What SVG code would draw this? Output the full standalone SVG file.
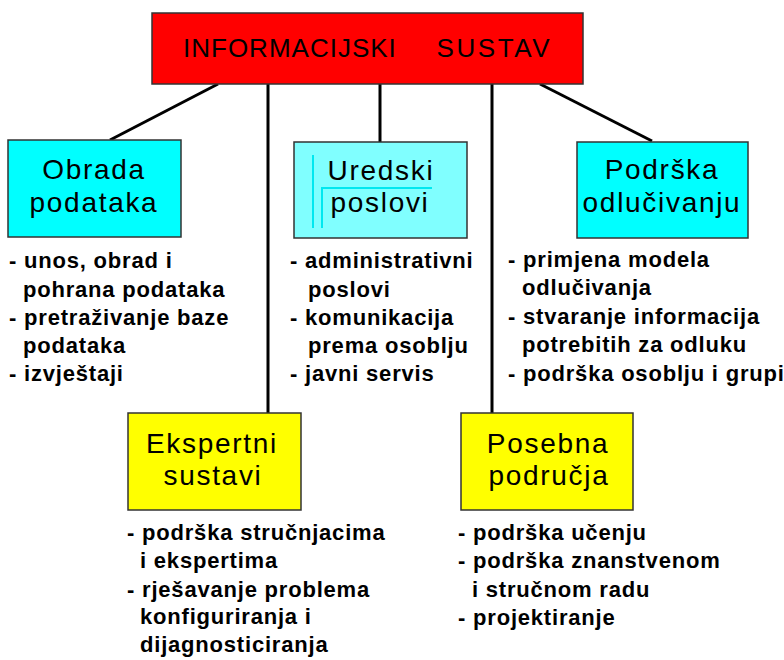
<svg xmlns="http://www.w3.org/2000/svg" width="784" height="660" viewBox="0 0 784 660">
<style>
.box{stroke:#333;stroke-width:1.5}
.red{fill:#ff0000}
.cyan{fill:#00ffff}
.lcyan{fill:#80ffff}
.yel{fill:#ffff00}
.title{font-family:"Liberation Sans",Arial,sans-serif;font-size:26px;letter-spacing:1px;word-spacing:5px;fill:#000}
.lbl{font-family:"Liberation Sans",Arial,sans-serif;font-size:28px;letter-spacing:1.7px;fill:#000;text-anchor:middle}
.bul{font-family:"Liberation Sans",Arial,sans-serif;font-size:22px;font-weight:bold;letter-spacing:0.8px;fill:#000}
.conn{stroke:#000;stroke-width:3;fill:none}
.deco{stroke:#00e8f0;stroke-width:2;fill:none}
</style>
<rect width="784" height="660" fill="#fff"/>
<g id="connectors">
<line class="conn" x1="218" y1="84" x2="110" y2="140"/>
<line class="conn" x1="268" y1="84" x2="268" y2="413"/>
<line class="conn" x1="380" y1="84" x2="380" y2="142"/>
<line class="conn" x1="492" y1="84" x2="492" y2="413"/>
<line class="conn" x1="540" y1="84" x2="652" y2="141"/>
</g>
<g id="informacijski-sustav">
<rect class="box red" x="152" y="13" width="431" height="71"/>
<text class="title" x="183" y="57" xml:space="preserve">INFORMACIJSKI   <tspan letter-spacing="2.6">SUSTAV</tspan></text>
</g>
<g id="obrada-podataka">
<rect class="box cyan" x="8" y="140" width="173" height="97"/>
<text class="lbl" x="94" y="179">Obrada</text>
<text class="lbl" x="94" y="212">podataka</text>
<text class="bul" x="9" y="268">- unos, obrad i</text>
<text class="bul" x="23" y="297">pohrana podataka</text>
<text class="bul" x="9" y="325">- pretraživanje baze</text>
<text class="bul" x="23" y="353">podataka</text>
<text class="bul" x="9" y="381">- izvještaji</text>
</g>
<g id="uredski-poslovi">
<rect class="box lcyan" x="294" y="142" width="173" height="96"/>
<line class="deco" x1="313" y1="155" x2="313" y2="228"/>
<line class="deco" x1="321" y1="188" x2="432" y2="188"/>
<line class="deco" x1="322" y1="188" x2="322" y2="228"/>
<text class="lbl" x="381" y="180">Uredski</text>
<text class="lbl" x="380" y="212">poslovi</text>
<text class="bul" x="290" y="268">- administrativni</text>
<text class="bul" x="308" y="297">poslovi</text>
<text class="bul" x="290" y="325">- komunikacija</text>
<text class="bul" x="308" y="353">prema osoblju</text>
<text class="bul" x="290" y="381">- javni servis</text>
</g>
<g id="podrska-odlucivanju">
<rect class="box cyan" x="577" y="142" width="171" height="96"/>
<text class="lbl" x="662" y="179">Podrška</text>
<text class="lbl" x="662" y="212">odlučivanju</text>
<text class="bul" x="508" y="267">- primjena modela</text>
<text class="bul" x="522" y="295">odlučivanja</text>
<text class="bul" x="508" y="324">- stvaranje informacija</text>
<text class="bul" x="522" y="352">potrebitih za odluku</text>
<text class="bul" x="508" y="381">- podrška osoblju i grupi</text>
</g>
<g id="ekspertni-sustavi">
<rect class="box yel" x="128" y="413" width="173" height="97"/>
<text class="lbl" x="212" y="453">Ekspertni</text>
<text class="lbl" x="213" y="485">sustavi</text>
<text class="bul" x="127" y="540">- podrška stručnjacima</text>
<text class="bul" x="140" y="568">i ekspertima</text>
<text class="bul" x="127" y="597">- rješavanje problema</text>
<text class="bul" x="140" y="624">konfiguriranja i</text>
<text class="bul" x="140" y="652">dijagnosticiranja</text>
</g>
<g id="posebna-podrucja">
<rect class="box yel" x="461" y="413" width="172" height="97"/>
<text class="lbl" x="548" y="453">Posebna</text>
<text class="lbl" x="549" y="485">područja</text>
<text class="bul" x="458" y="540">- podrška učenju</text>
<text class="bul" x="458" y="568">- podrška znanstvenom</text>
<text class="bul" x="472" y="597">i stručnom radu</text>
<text class="bul" x="458" y="625">- projektiranje</text>
</g>
</svg>
